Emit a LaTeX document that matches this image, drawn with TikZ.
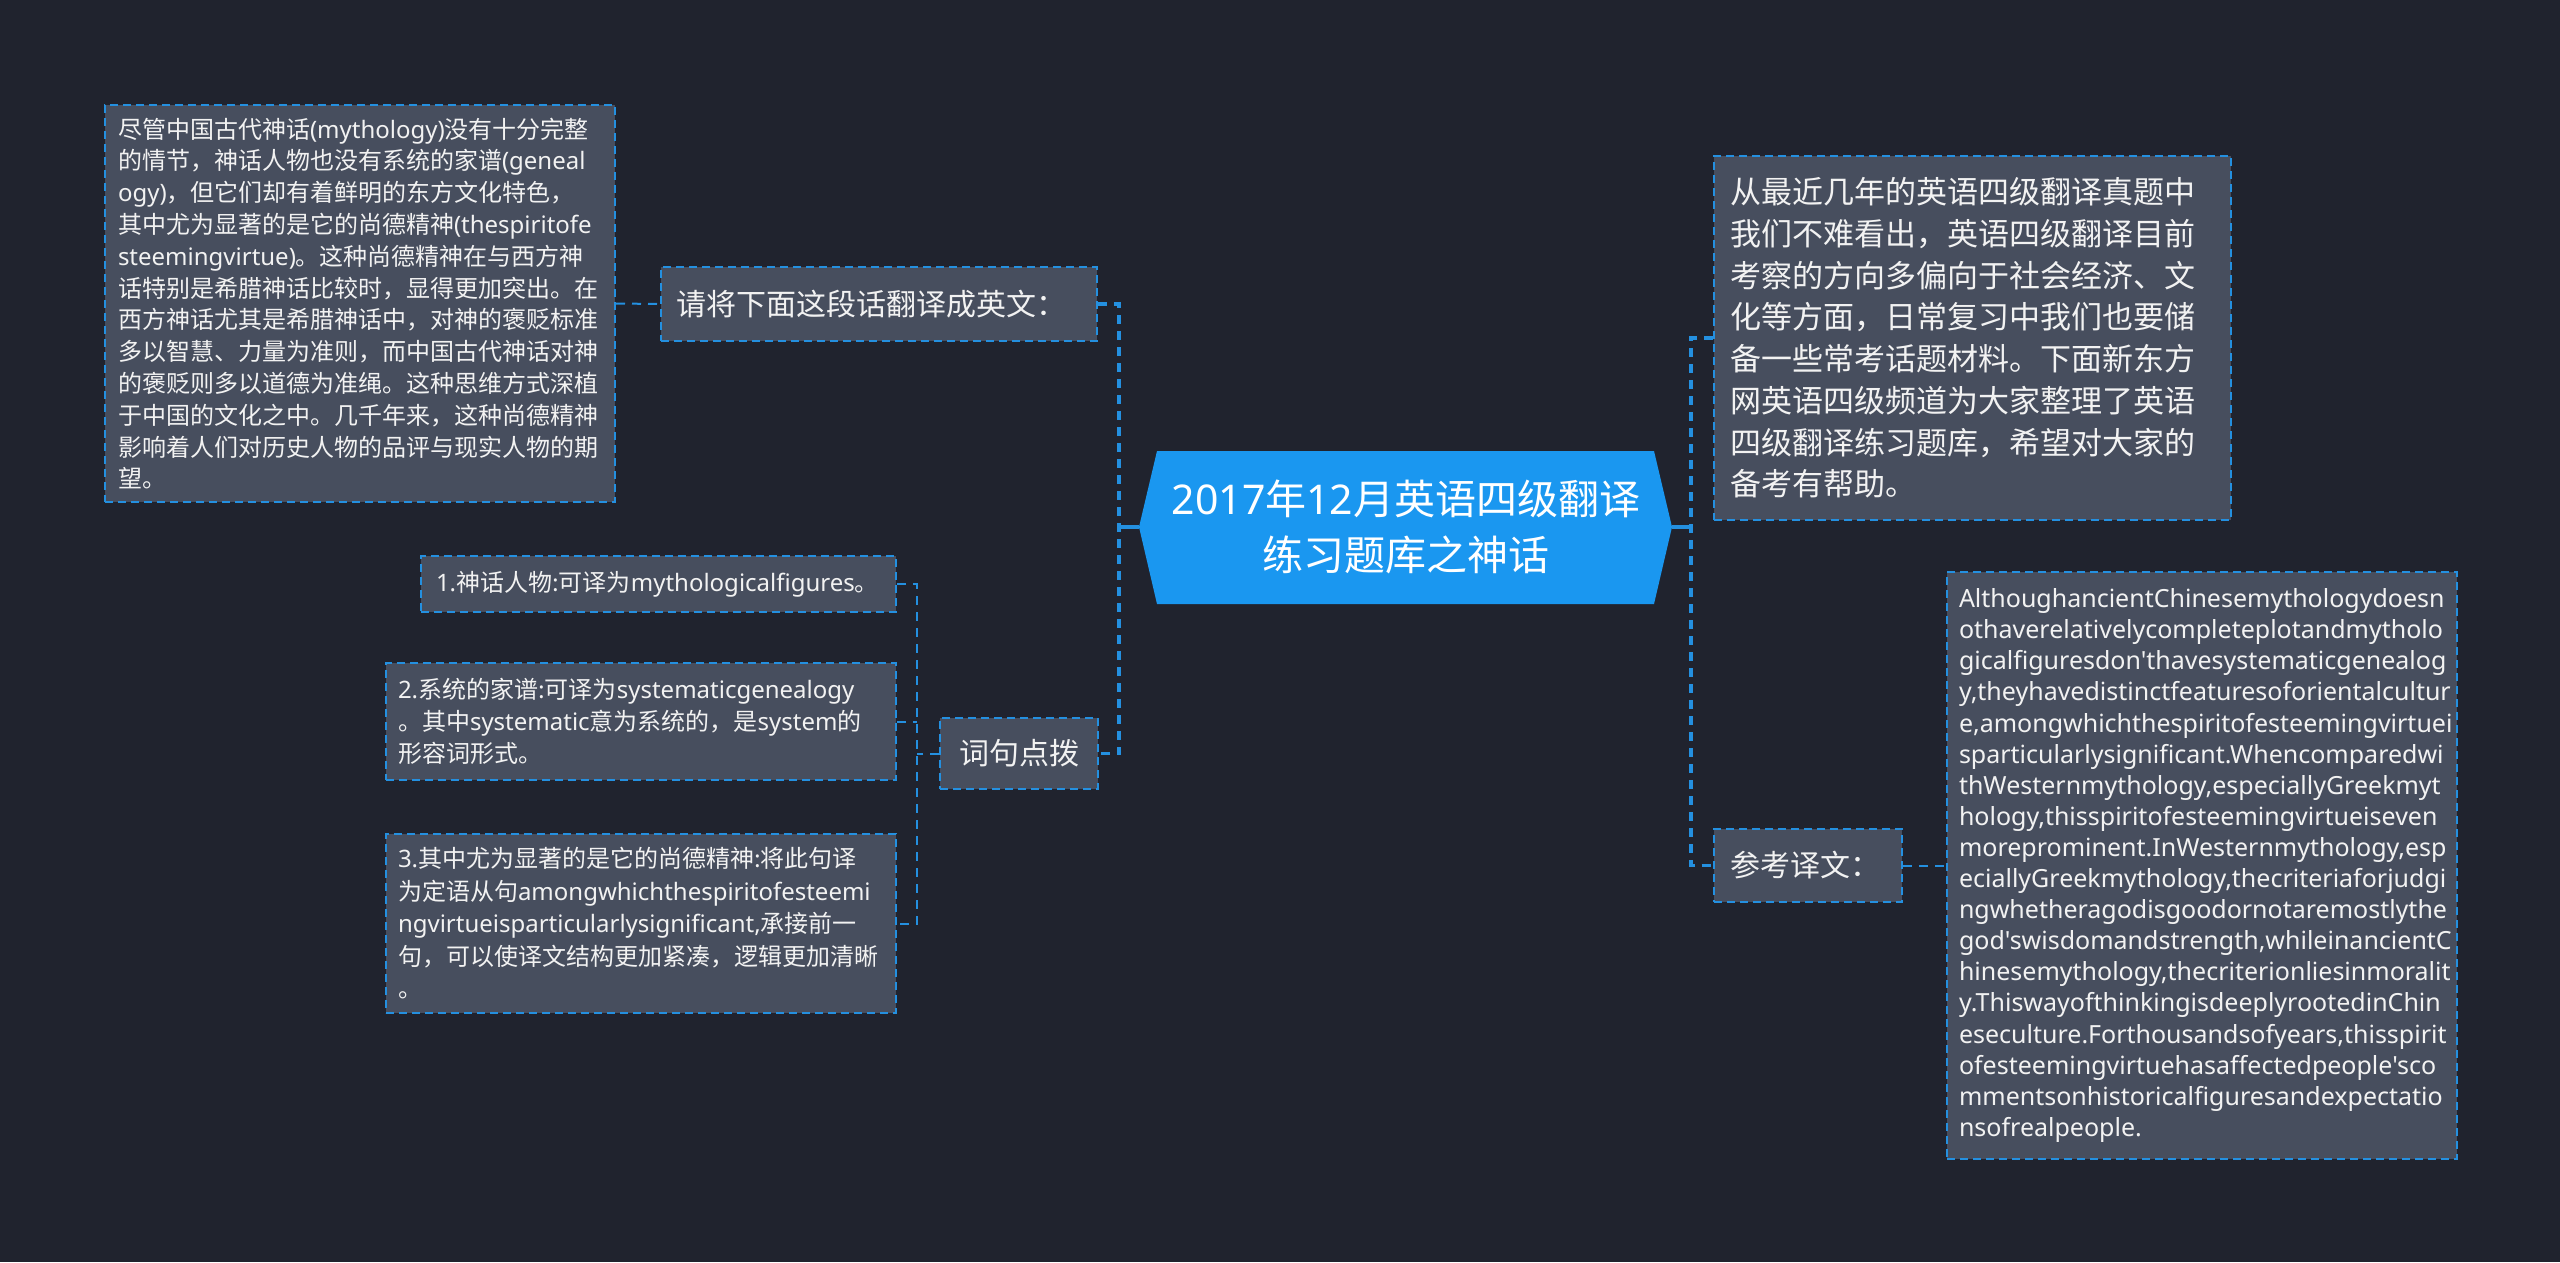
\documentclass[tikz,border=0pt]{standalone}
\usepackage{fontspec}
\setmainfont{Noto Sans CJK SC}
\newfontfamily\latf{Noto Sans}[Ligatures=TeXOff]
\newcommand\lt[1]{{\latf #1}}
\definecolor{bgc}{RGB}{32,35,46}
\definecolor{boxc}{RGB}{71,78,94}
\definecolor{linec}{RGB}{36,144,224}
\definecolor{mainc}{RGB}{26,151,240}
\definecolor{txtc}{RGB}{242,242,242}
\begin{document}
\begin{tikzpicture}[x=1pt,y=-1pt,
  box/.style={draw=linec, fill=boxc, line width=2pt, dash pattern=on 8pt off 5pt,
    anchor=north west, inner ysep=0pt, text=txtc, align=left},
  mainconn/.style={draw=linec, line width=3.5pt, dash pattern=on 9pt off 7pt},
  subconn/.style={draw=linec, line width=2pt, dash pattern=on 9pt off 7pt},
  link/.style={draw=linec, line width=3.5pt},
  f24/.style={font={\fontsize{24pt}{31.8pt}\selectfont}},
  f30/.style={font={\fontsize{30pt}{36pt}\selectfont}},
]
\fill[bgc] (0,0) rectangle (2560,1262);
\useasboundingbox (0,0) rectangle (2560,1262);

% central node
\fill[mainc] (1139,527) -- (1157,451) -- (1654,451) -- (1672,527) -- (1654,604) -- (1157,604) -- cycle;
\node[text=white, align=center, font={\fontsize{41pt}{56pt}\selectfont}] (C) at (1406,527)
  {\lt{2017}年\lt{12}月英语四级翻译\\练习题库之神话};
\coordinate (cL) at (1139,527);
\coordinate (cR) at (1672,527);
\coordinate (lt) at (1119,527);
\coordinate (rt) at (1691,527);
\coordinate (st) at (917,752);

% left side
\node[box, f24, minimum width=510pt, minimum height=397pt, inner xsep=13pt, text width=484pt] (L1) at (104,104)
{尽管中国古代神话\lt{(mythology)}没有十分完整\\
的情节，神话人物也没有系统的家谱\lt{(geneal}\\
\lt{ogy)}，但它们却有着鲜明的东方文化特色，\\
其中尤为显著的是它的尚德精神\lt{(thespiritofe}\\
\lt{steemingvirtue)}。这种尚德精神在与西方神\\
话特别是希腊神话比较时，显得更加突出。在\\
西方神话尤其是希腊神话中，对神的褒贬标准\\
多以智慧、力量为准则，而中国古代神话对神\\
的褒贬则多以道德为准绳。这种思维方式深植\\
于中国的文化之中。几千年来，这种尚德精神\\
影响着人们对历史人物的品评与现实人物的期\\
望。};

\node[box, f30, minimum width=436pt, minimum height=74pt, inner xsep=15pt, text width=406pt] (L2) at (660,266)
{请将下面这段话翻译成英文：};

\node[box, f30, align=center, minimum width=158pt, minimum height=71pt, inner xsep=16pt, text width=126pt] (L3) at (939,717)
{词句点拨};

\node[box, f24, minimum width=475pt, minimum height=56pt, inner xsep=15pt, text width=445pt] (I1) at (420,555)
{\lt{1.}神话人物:可译为\lt{mythologicalfigures}。};

\node[box, font={\fontsize{24pt}{32pt}\selectfont}, minimum width=510pt, minimum height=117pt, inner xsep=12pt, text width=486pt] (I2) at (385,662)
{\lt{2.}系统的家谱:可译为\lt{systematicgenealogy}\\
。其中\lt{systematic}意为系统的，是\lt{system}的\\
形容词形式。};

\node[box, font={\fontsize{24pt}{32.5pt}\selectfont}, minimum width=510pt, minimum height=179pt, inner xsep=12pt, text width=486pt] (I3) at (385,833)
{\lt{3.}其中尤为显著的是它的尚德精神:将此句译\\
为定语从句\lt{amongwhichthespiritofesteemi}\\
\lt{ngvirtueisparticularlysignificant,}承接前一\\
句，可以使译文结构更加紧凑，逻辑更加清晰\\
。};

% right side
\node[box, font={\fontsize{31pt}{41.7pt}\selectfont}, minimum width=517pt, minimum height=364pt, inner xsep=16pt, text width=485pt] (R1) at (1713,155)
{从最近几年的英语四级翻译真题中\\
我们不难看出，英语四级翻译目前\\
考察的方向多偏向于社会经济、文\\
化等方面，日常复习中我们也要储\\
备一些常考话题材料。下面新东方\\
网英语四级频道为大家整理了英语\\
四级翻译练习题库，希望对大家的\\
备考有帮助。};

\node[box, f30, minimum width=188pt, minimum height=73pt, inner xsep=16pt, text width=156pt] (R2) at (1713,828)
{参考译文：};

\node[box, font={\latf\fontsize{25pt}{31.1pt}\selectfont}, minimum width=510pt, minimum height=587pt, inner xsep=12pt, text width=486pt] (R3) at (1946,571)
{AlthoughancientChinesemythologydoesn\\
othaverelativelycompleteplotandmytholo\\
gicalfiguresdon'thavesystematicgenealog\\
y,theyhavedistinctfeaturesoforientalcultur\\
e,amongwhichthespiritofesteemingvirtuei\\
sparticularlysignificant.Whencomparedwi\\
thWesternmythology,especiallyGreekmyt\\
hology,thisspiritofesteemingvirtueiseven\\
moreprominent.InWesternmythology,esp\\
eciallyGreekmythology,thecriteriaforjudgi\\
ngwhetheragodisgoodornotaremostlythe\\
god'swisdomandstrength,whileinancientC\\
hinesemythology,thecriterionliesinmoralit\\
y.ThiswayofthinkingisdeeplyrootedinChin\\
eseculture.Forthousandsofyears,thisspirit\\
ofesteemingvirtuehasaffectedpeople'sco\\
mmentsonhistoricalfiguresandexpectatio\\
nsofrealpeople.};

% connectors
\draw[link] (cL) -- (lt);
\draw[mainconn] (L2.east) -- (L2.east -| lt) -- (L3.east -| lt) -- (L3.east);
\draw[subconn] (L1.east) -- (L2.west);
\draw[subconn] (L3.west) -- (L3.west -| st);
\draw[subconn] (I1.east) -- (I1.east -| st) -- (I3.east -| st) -- (I3.east);
\draw[subconn] (I2.east) -- (I2.east -| st);
\draw[link] (cR) -- (rt);
\draw[mainconn] (R1.west) -- (R1.west -| rt) -- (R2.west -| rt) -- (R2.west);
\draw[subconn] (R2.east) -- (R3.west);
\end{tikzpicture}
\end{document}
